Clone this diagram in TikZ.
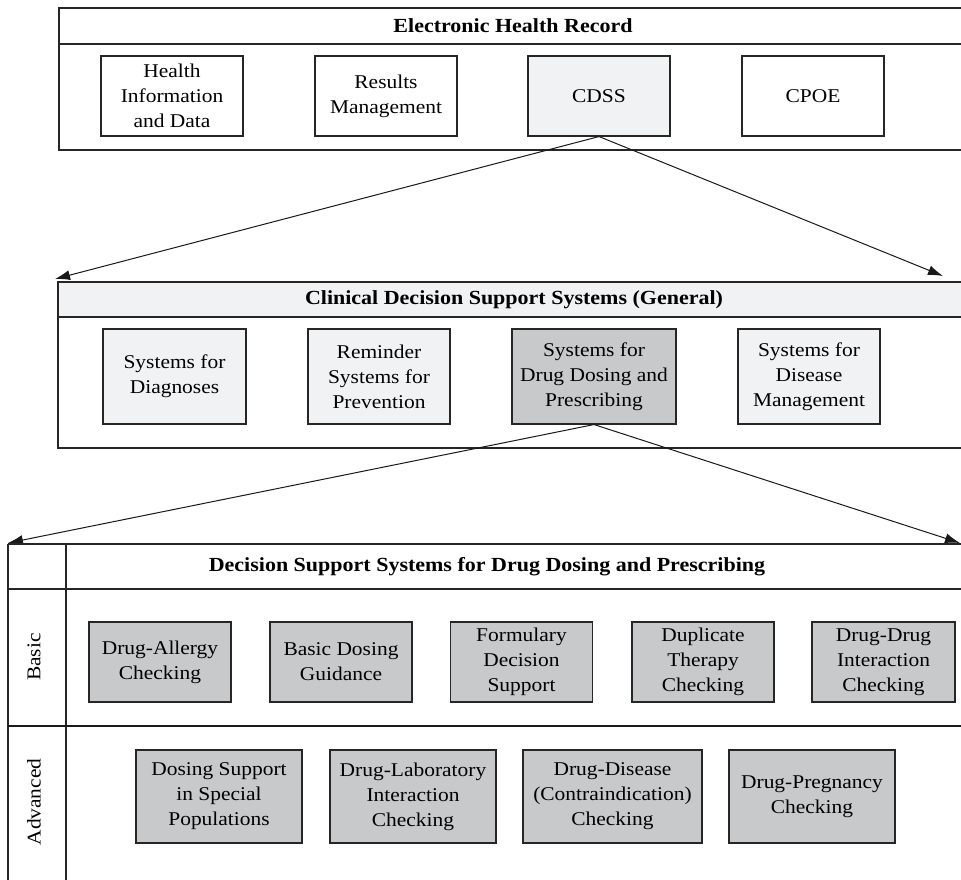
\documentclass[tikz,border=0pt]{standalone}
\usepackage{fontspec}
\setmainfont{Liberation Serif}[FakeStretch=1.1]
\usetikzlibrary{arrows.meta}
\definecolor{lightg}{HTML}{F1F2F3}
\definecolor{midg}{HTML}{C8C9CA}
\tikzset{
  frame/.style={draw=black!85, line width=1.2pt},
  cell/.style={draw=black!85, line width=1.1pt, align=center, inner sep=0pt,
    font=\fontsize{19.5}{25}\selectfont},
  titletext/.style={font=\bfseries\fontsize{20}{25}\selectfont, inner sep=0pt},
  sidetext/.style={rotate=90, font=\fontsize{19.5}{25}\selectfont, inner sep=0pt},
  conn/.style={line width=1pt, draw=black!90, -{Latex[length=15pt,width=10pt]}},
}
\begin{document}
\begin{tikzpicture}[x=1pt,y=-1pt]
\useasboundingbox (0,0) rectangle (961,880);
\fill[white] (0,0) rectangle (961,880);

% ---------- Electronic Health Record ----------
\draw[frame] (59,8) rectangle (975,150);
\draw[frame] (59,44) -- (975,44);
\node[titletext] (ehrt) at (513,26) {Electronic Health Record};
\node[cell, minimum width=142pt, minimum height=80pt] (hid) at (172,96) {Health\\Information\\and Data};
\node[cell, minimum width=142pt, minimum height=80pt] (rm) at (386,96) {Results\\Management};
\node[cell, fill=lightg, minimum width=142pt, minimum height=80pt] (cdss) at (599,96) {CDSS};
\node[cell, minimum width=142pt, minimum height=80pt] (cpoe) at (813,96) {CPOE};

% ---------- Clinical Decision Support Systems (General) ----------
\fill[lightg] (58,282) rectangle (975,317);
\draw[frame] (58,282) rectangle (975,448);
\draw[frame] (58,317) -- (975,317);
\node[titletext] (cdsst) at (514,300) {Clinical Decision Support Systems (General)};
\node[cell, fill=lightg, minimum width=143pt, minimum height=95pt] (diag) at (174.5,376.5) {Systems for\\Diagnoses};
\node[cell, fill=lightg, minimum width=142pt, minimum height=95pt] (rem) at (379,376.5) {Reminder\\Systems for\\Prevention};
\node[cell, fill=midg, minimum width=164pt, minimum height=95pt] (dd) at (594,376.5) {Systems for\\Drug Dosing and\\Prescribing};
\node[cell, fill=lightg, minimum width=142pt, minimum height=95pt] (dm) at (809,376.5) {Systems for\\Disease\\Management};

% ---------- arrows ----------
\coordinate (a1) at (55,279);
\coordinate (a2) at (943,276);
\coordinate (b1) at (8,543);
\coordinate (b2) at (960,543);
\draw[conn] (cdss.south) -- (a1);
\draw[conn] (cdss.south) -- (a2);
\draw[conn] (dd.south) -- (b1);
\draw[conn] (dd.south) -- (b2);

% ---------- Decision Support Systems for Drug Dosing and Prescribing ----------
\draw[frame] (8,544) -- (975,544);
\draw[frame] (8,544) -- (8,885);
\draw[frame] (66,544) -- (66,885);
\draw[frame] (8,589) -- (975,589);
\draw[draw=black!90, line width=2.2pt] (8,726) -- (975,726);
\node[titletext] (dsst) at (487,566.5) {Decision Support Systems for Drug Dosing and Prescribing};
\node[sidetext] (basic) at (34,657) {Basic};
\node[sidetext] (adv) at (34,802) {Advanced};

\node[cell, fill=midg, minimum width=142pt, minimum height=80pt] (da) at (160,662) {Drug-Allergy\\Checking};
\node[cell, fill=midg, minimum width=142pt, minimum height=80pt] (bdg) at (341,662) {Basic Dosing\\Guidance};
\node[cell, fill=midg, minimum width=142pt, minimum height=80pt] (fds) at (521.5,662) {Formulary\\Decision\\Support};
\node[cell, fill=midg, minimum width=142pt, minimum height=80pt] (dtc) at (703,662) {Duplicate\\Therapy\\Checking};
\node[cell, fill=midg, minimum width=143pt, minimum height=80pt] (ddi) at (883.5,662) {Drug-Drug\\Interaction\\Checking};

\node[cell, fill=midg, minimum width=166pt, minimum height=93pt] (dsp) at (219,796.5) {Dosing Support\\in Special\\Populations};
\node[cell, fill=midg, minimum width=166pt, minimum height=93pt] (dli) at (413,796.5) {Drug-Laboratory\\Interaction\\Checking};
\node[cell, fill=midg, minimum width=179pt, minimum height=93pt] (ddc) at (612.5,796.5) {Drug-Disease\\(Contraindication)\\Checking};
\node[cell, fill=midg, minimum width=166pt, minimum height=93pt] (dpc) at (812,796.5) {Drug-Pregnancy\\Checking};
\end{tikzpicture}
\end{document}
